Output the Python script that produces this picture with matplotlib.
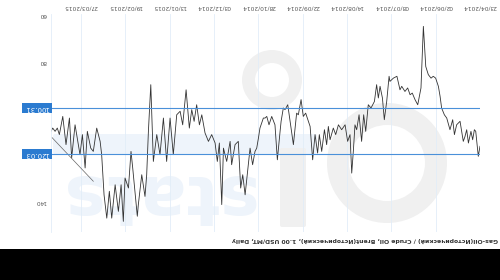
import matplotlib
matplotlib.use("Agg")
import matplotlib.pyplot as plt
from matplotlib.patches import Wedge, FancyBboxPatch, Rectangle
from matplotlib.transforms import ScaledTranslation

# trading-day position (0 = 23/04/2014) and price ratio
day = [0.0, 1.0, 2.5, 3.3, 4.3, 5.3, 6.8, 7.8, 8.8, 9.8, 11.7, 13.7, 15.0, 16.0,
       17.6, 19.5, 20.9, 22.5, 23.4, 24.4, 26.0, 27.4, 28.7, 30.3, 31.8, 33.2,
       34.6, 36.5, 38.1, 39.7, 41.0, 42.4, 44.0, 45.9, 46.9, 48.7, 50.8, 52.8,
       53.3, 54.7, 56.1, 57.2, 58.6, 59.6, 60.6, 61.9, 63.9, 65.5, 67.0, 68.2,
       69.4, 70.9, 72.3, 73.3, 74.2, 75.2, 76.2, 77.6, 79.1, 81.1, 83.0, 84.6,
       86.0, 87.9, 88.9, 89.9, 91.2, 92.8, 94.2, 95.2, 96.7, 98.1, 99.6, 102.2,
       103.6, 104.9, 106.5, 107.5, 109.4, 112.7, 114.3, 115.3, 116.6, 117.2,
       118.8, 120.2, 122.1, 123.7, 125.0, 126.0, 127.0, 129.0, 129.9, 130.9,
       131.9, 133.3, 134.8, 137.7, 139.1, 140.3, 141.7, 143.6, 145.6, 146.5,
       148.5, 150.4, 151.4, 152.8, 154.0, 155.3, 157.3, 159.2, 161.2, 163.1,
       164.5, 166.1, 167.6, 169.0, 170.4, 172.3, 174.3, 175.8, 177.8, 179.8,
       181.7, 183.7, 185.6, 187.6, 189.5, 191.5, 193.0, 194.4, 195.4, 196.4,
       198.3, 200.3, 200.9, 203.6, 204.6, 206.1, 208.1, 209.1, 210.4, 212.0,
       213.9, 215.9, 217.3, 218.8, 220.4, 221.8, 222.7, 224.7, 226.7, 228.2,
       230.2, 231.5, 233.1, 234.5, 237.4, 239.4, 240.7, 242.7, 244.6, 246.6,
       247.8, 249.1, 250.5, 251.5]
ratio = [116.7, 121.0, 110.3, 109.6, 113.9, 110.3, 115.3, 109.6, 112.5, 114.6,
         106.0, 107.5, 111.7, 105.3, 109.6, 104.6, 103.2, 100.3, 95.3, 91.0,
         87.5, 86.7, 87.5, 86.0, 82.5, 65.3, 91.7, 98.9, 96.7, 93.9, 94.6, 91.7,
         93.2, 91.0, 92.5, 86.7, 87.5, 88.9, 86.7, 97.5, 105.3, 96.0, 91.0, 96.0,
         90.3, 97.5, 100.3, 98.9, 110.3, 103.2, 114.6, 103.2, 109.6, 107.5, 118.2,
         128.2, 111.7, 114.6, 107.5, 109.6, 107.5, 111.7, 108.9, 113.9, 108.2,
         116.0, 109.6, 118.9, 111.7, 119.6, 111.7, 122.5, 108.2, 102.5, 103.9,
         96.7, 103.2, 102.5, 116.0, 98.9, 101.0, 100.3, 106.0, 110.3, 122.5,
         107.5, 103.9, 107.5, 103.9, 104.6, 104.6, 108.9, 113.2, 117.5, 118.9,
         124.6, 117.5, 137.5, 128.9, 134.6, 114.6, 116.0, 124.6, 114.6, 123.2,
         117.5, 141.7, 115.3, 123.2, 115.3, 111.7, 114.6, 111.0, 103.2, 107.5,
         98.9, 106.0, 101.0, 108.9, 92.5, 107.5, 101.7, 103.2, 120.3, 104.6,
         123.2, 104.6, 120.3, 111.7, 123.2, 90.3, 110.3, 128.9, 138.2, 128.9,
         141.7, 146.7, 126.0, 118.9, 134.6, 130.3, 148.9, 133.2, 144.6, 133.2,
         147.5, 136.0, 147.5, 137.5, 120.3, 114.6, 108.9, 118.9, 117.5, 110.3,
         126.0, 111.7, 120.3, 107.5, 121.7, 104.6, 116.0, 103.9, 111.7, 108.9,
         110.3, 108.9, 110.3]

tick_days = [0, 26, 52, 78, 104, 130, 156, 182, 208, 234]
tick_labels = ["23/04/2014", "02/06/2014", "08/07/2014", "14/08/2014", "22/09/2014",
               "28/10/2014", "03/12/2014", "13/01/2015", "19/02/2015", "27/03/2015"]
levels = [100.31, 120.03]
trend_days = [251.0, 226.7]
trend_vals = [112.9, 131.7]
title = "Gas-Oil(Исторический) / Crude Oil, Brent(Исторический), 1.00 USD/MT, Daily"

fig = plt.figure(figsize=(5, 2.8), dpi=100)
inch = fig.dpi_scale_trans

# black bar + faint watermark (picture is upside down)
fig.add_artist(Rectangle((0, 0), 5, 0.31, transform=inch, fc="black", ec="none", zorder=-2))
fig.add_artist(FancyBboxPatch((0.55, 1.28), 2.6, 0.16, boxstyle="round,pad=0.02",
                              transform=inch, fc="#eef4fb", ec="none", zorder=-1))
fig.text(1.55, 0.85, "stats", transform=inch, fontsize=50, fontweight="bold",
         color="#eef4fb", rotation=180, ha="center", va="center", zorder=-1)
fig.add_artist(Wedge((3.87, 1.17), 0.6, 0, 360, width=0.22, transform=inch,
                     fc="#f0f0f0", ec="none", zorder=-1))
fig.add_artist(Wedge((2.72, 2.0), 0.3, 0, 360, width=0.13, transform=inch,
                     fc="#f0f0f0", ec="none", zorder=-1))
fig.add_artist(FancyBboxPatch((2.82, 0.55), 0.22, 0.75, boxstyle="round,pad=0.02",
                              transform=inch, fc="#f0f0f0", ec="none", zorder=-1))

ax = fig.add_axes([0.102, 0.171, 0.858, 0.779])
ax.patch.set_alpha(0)

ax.plot(day, ratio, color="#333333", lw=0.6)
ax.plot(trend_days, trend_vals, color="#666666", lw=0.5)
for lv in levels:
    ax.axhline(lv, color="#4a90d9", lw=0.8)
    ax.text(-0.004, lv, f"{lv:.2f}", transform=ax.get_yaxis_transform(),
            rotation=180, ha="right", va="center", fontsize=5, color="white",
            bbox=dict(boxstyle="square,pad=0.35", fc="#2b7bd0", ec="none"))

ax.set_xlim(251.5, 0)
ax.set_ylim(153.5, 60)

ax.xaxis.tick_top()
ax.set_xticks(tick_days)
ax.set_xticklabels(tick_labels, rotation=180, fontsize=4.2, color="#555555")
for lab in ax.get_xticklabels():
    lab.set_transform(lab.get_transform() + ScaledTranslation(0.06, 0, inch))
ax.set_yticks([60, 80, 140])
ax.set_yticklabels(["60", "80", "140"], rotation=180, fontsize=4.2, color="#555555")
ax.tick_params(length=0, pad=3)
ax.grid(axis="x", color="#e2edf8", lw=0.6)
for s in ["top", "right", "bottom"]:
    ax.spines[s].set_visible(False)
ax.spines["left"].set_color("#e2edf8")
ax.spines["left"].set_linewidth(0.6)

fig.text(0.996, 0.143, title, rotation=180, ha="right", va="center",
         fontsize=4.4, fontweight="bold", color="#333333")

fig.savefig("out.png", dpi=100)
